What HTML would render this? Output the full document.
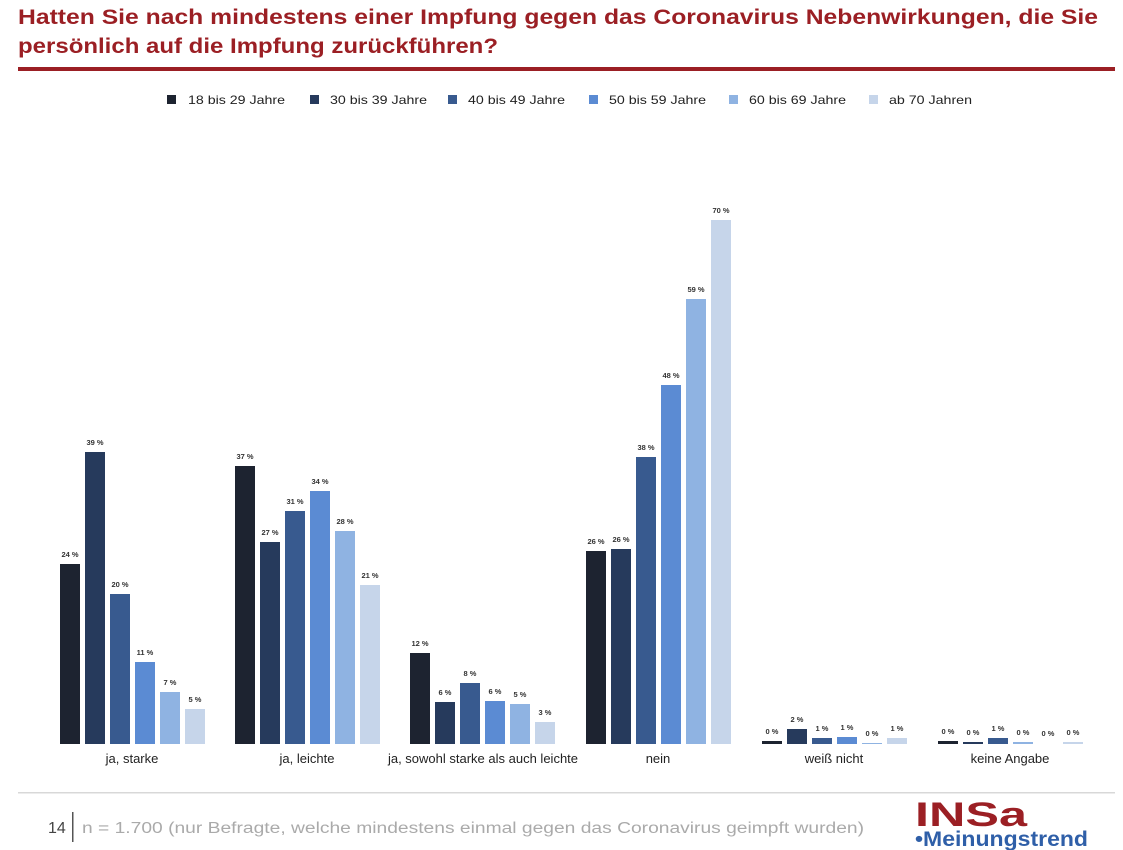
<!DOCTYPE html>
<html><head><meta charset="utf-8"><style>
body{margin:0;background:#fff;}
svg{display:block;font-family:"Liberation Sans",sans-serif;}
.v{font-size:7.5px;font-weight:bold;fill:#333;text-anchor:middle;}
.c{font-size:13px;fill:#222;text-anchor:middle;}
.l{font-size:12px;fill:#222;}
</style></head><body>
<svg width="1123" height="850" viewBox="0 0 1123 850">
<rect width="1123" height="850" fill="#fff"/>
<text x="18" y="24" font-size="21.5" font-weight="bold" fill="#9b1f24" textLength="1080" lengthAdjust="spacingAndGlyphs">Hatten Sie nach mindestens einer Impfung gegen das Coronavirus Nebenwirkungen, die Sie</text>
<text x="18" y="53" font-size="21.5" font-weight="bold" fill="#9b1f24" textLength="480" lengthAdjust="spacingAndGlyphs">persönlich auf die Impfung zurückführen?</text>
<rect x="18" y="67" width="1097" height="4" fill="#9b1f24"/>
<g class="l">
<rect x="167" y="95" width="9" height="9" fill="#1d2330"/><text x="188" y="104" textLength="97" lengthAdjust="spacingAndGlyphs">18 bis 29 Jahre</text>
<rect x="310" y="95" width="9" height="9" fill="#263a5c"/><text x="330" y="104" textLength="97" lengthAdjust="spacingAndGlyphs">30 bis 39 Jahre</text>
<rect x="448" y="95" width="9" height="9" fill="#385a8f"/><text x="468" y="104" textLength="97" lengthAdjust="spacingAndGlyphs">40 bis 49 Jahre</text>
<rect x="589" y="95" width="9" height="9" fill="#5b8bd3"/><text x="609" y="104" textLength="97" lengthAdjust="spacingAndGlyphs">50 bis 59 Jahre</text>
<rect x="729" y="95" width="9" height="9" fill="#8fb3e2"/><text x="749" y="104" textLength="97" lengthAdjust="spacingAndGlyphs">60 bis 69 Jahre</text>
<rect x="869" y="95" width="9" height="9" fill="#c6d5ea"/><text x="889" y="104" textLength="83" lengthAdjust="spacingAndGlyphs">ab 70 Jahren</text>
</g>
<!-- G0 -->
<rect x="60" y="564" width="20" height="180" fill="#1d2330"/><text class="v" x="70" y="557">24 %</text>
<rect x="85" y="452" width="20" height="292" fill="#263a5c"/><text class="v" x="95" y="445">39 %</text>
<rect x="110" y="594" width="20" height="150" fill="#385a8f"/><text class="v" x="120" y="587">20 %</text>
<rect x="135" y="662" width="20" height="82" fill="#5b8bd3"/><text class="v" x="145" y="655">11 %</text>
<rect x="160" y="692" width="20" height="52" fill="#8fb3e2"/><text class="v" x="170" y="685">7 %</text>
<rect x="185" y="709" width="20" height="35" fill="#c6d5ea"/><text class="v" x="195" y="702">5 %</text>
<!-- G1 -->
<rect x="235" y="466" width="20" height="278" fill="#1d2330"/><text class="v" x="245" y="459">37 %</text>
<rect x="260" y="542" width="20" height="202" fill="#263a5c"/><text class="v" x="270" y="535">27 %</text>
<rect x="285" y="511" width="20" height="233" fill="#385a8f"/><text class="v" x="295" y="504">31 %</text>
<rect x="310" y="491" width="20" height="253" fill="#5b8bd3"/><text class="v" x="320" y="484">34 %</text>
<rect x="335" y="531" width="20" height="213" fill="#8fb3e2"/><text class="v" x="345" y="524">28 %</text>
<rect x="360" y="585" width="20" height="159" fill="#c6d5ea"/><text class="v" x="370" y="578">21 %</text>
<!-- G2 -->
<rect x="410" y="653" width="20" height="91" fill="#1d2330"/><text class="v" x="420" y="646">12 %</text>
<rect x="435" y="702" width="20" height="42" fill="#263a5c"/><text class="v" x="445" y="695">6 %</text>
<rect x="460" y="683" width="20" height="61" fill="#385a8f"/><text class="v" x="470" y="676">8 %</text>
<rect x="485" y="701" width="20" height="43" fill="#5b8bd3"/><text class="v" x="495" y="694">6 %</text>
<rect x="510" y="704" width="20" height="40" fill="#8fb3e2"/><text class="v" x="520" y="697">5 %</text>
<rect x="535" y="722" width="20" height="22" fill="#c6d5ea"/><text class="v" x="545" y="715">3 %</text>
<!-- G3 -->
<rect x="586" y="551" width="20" height="193" fill="#1d2330"/><text class="v" x="596" y="544">26 %</text>
<rect x="611" y="549" width="20" height="195" fill="#263a5c"/><text class="v" x="621" y="542">26 %</text>
<rect x="636" y="457" width="20" height="287" fill="#385a8f"/><text class="v" x="646" y="450">38 %</text>
<rect x="661" y="385" width="20" height="359" fill="#5b8bd3"/><text class="v" x="671" y="378">48 %</text>
<rect x="686" y="299" width="20" height="445" fill="#8fb3e2"/><text class="v" x="696" y="292">59 %</text>
<rect x="711" y="220" width="20" height="524" fill="#c6d5ea"/><text class="v" x="721" y="213">70 %</text>
<!-- G4 -->
<rect x="762" y="741" width="20" height="3" fill="#1d2330"/><text class="v" x="772" y="734">0 %</text>
<rect x="787" y="729" width="20" height="15" fill="#263a5c"/><text class="v" x="797" y="722">2 %</text>
<rect x="812" y="738" width="20" height="6" fill="#385a8f"/><text class="v" x="822" y="731">1 %</text>
<rect x="837" y="737" width="20" height="7" fill="#5b8bd3"/><text class="v" x="847" y="730">1 %</text>
<rect x="862" y="743" width="20" height="1" fill="#8fb3e2"/><text class="v" x="872" y="736">0 %</text>
<rect x="887" y="738" width="20" height="6" fill="#c6d5ea"/><text class="v" x="897" y="731">1 %</text>
<!-- G5 -->
<rect x="938" y="741" width="20" height="3" fill="#1d2330"/><text class="v" x="948" y="734">0 %</text>
<rect x="963" y="742" width="20" height="2" fill="#263a5c"/><text class="v" x="973" y="735">0 %</text>
<rect x="988" y="738" width="20" height="6" fill="#385a8f"/><text class="v" x="998" y="731">1 %</text>
<rect x="1013" y="742" width="20" height="2" fill="#8fb3e2"/><text class="v" x="1023" y="735">0 %</text>
<text class="v" x="1048" y="736">0 %</text>
<rect x="1063" y="742" width="20" height="2" fill="#c6d5ea"/><text class="v" x="1073" y="735">0 %</text>
<g class="c">
<text x="132" y="763">ja, starke</text>
<text x="307" y="763">ja, leichte</text>
<text x="483" y="763">ja, sowohl starke als auch leichte</text>
<text x="658" y="763">nein</text>
<text x="834" y="763">weiß nicht</text>
<text x="1010" y="763">keine Angabe</text>
</g>
<rect x="18" y="792" width="1097" height="1.5" fill="#d8d8d8"/>
<text x="48" y="833" font-size="16" fill="#444">14</text>
<rect x="72" y="812" width="1.5" height="30" fill="#555"/>
<text x="82" y="833" font-size="15.5" fill="#aaa" textLength="782" lengthAdjust="spacingAndGlyphs">n = 1.700 (nur Befragte, welche mindestens einmal gegen das Coronavirus geimpft wurden)</text>
<text x="915" y="826" font-size="34" font-weight="bold" fill="#9b1f24" textLength="112" lengthAdjust="spacingAndGlyphs">INSa</text>
<text x="915" y="846" font-size="21" font-weight="bold" fill="#2f5fa8" textLength="173" lengthAdjust="spacingAndGlyphs">•Meinungstrend</text>
</svg>
</body></html>
